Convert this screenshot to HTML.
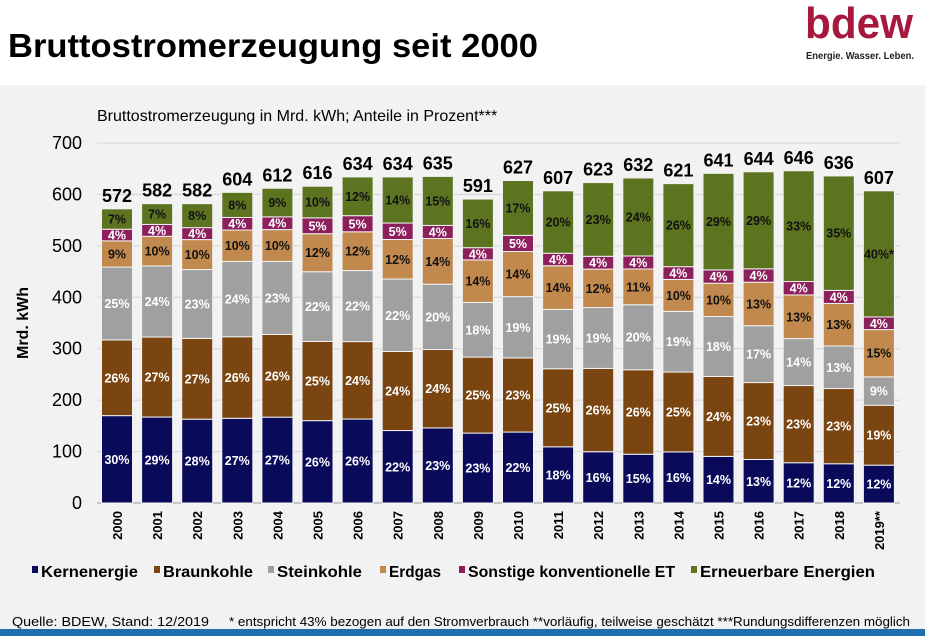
<!DOCTYPE html>
<html><head><meta charset="utf-8">
<style>
body{margin:0;width:925px;height:636px;overflow:hidden;background:#fff;font-family:"Liberation Sans",Arial,sans-serif;}
#bg{position:absolute;left:0;top:85px;width:925px;height:545px;background:#f2f2f2;}
#bar{position:absolute;left:0;top:629px;width:925px;height:7px;background:#1f6fb0;}
svg{position:absolute;left:0;top:0;}
</style></head><body>
<div id="bg"></div>
<div id="bar"></div>
<svg id="c" width="925" height="636">
<text x="8" y="57" font-size="33" font-weight="bold" fill="#000" textLength="530" lengthAdjust="spacingAndGlyphs">Bruttostromerzeugung seit 2000</text>
<text x="805" y="38" font-size="44" fill="#a6193c" font-weight="bold" textLength="108" lengthAdjust="spacingAndGlyphs">bdew</text>
<text x="806" y="59" font-size="10" font-weight="bold" fill="#222" textLength="108" lengthAdjust="spacingAndGlyphs">Energie. Wasser. Leben.</text>
<text x="97" y="121" font-size="16" fill="#000">Bruttostromerzeugung in Mrd. kWh; Anteile in Prozent***</text>
<text transform="translate(28,323) rotate(-90)" text-anchor="middle" font-size="16" font-weight="bold">Mrd. kWh</text>
<text x="12" y="626" font-size="12.5" textLength="197" lengthAdjust="spacingAndGlyphs">Quelle: BDEW, Stand: 12/2019</text>
<text x="229" y="626" font-size="12.5" textLength="681" lengthAdjust="spacingAndGlyphs">* entspricht 43% bezogen auf den Stromverbrauch **vorläufig, teilweise geschätzt ***Rundungsdifferenzen möglich</text>
<g id="plot"></g>
</svg>
<script>
const years=["2000","2001","2002","2003","2004","2005","2006","2007","2008","2009","2010","2011","2012","2013","2014","2015","2016","2017","2018","2019**"];
const totals=[572,582,582,604,612,616,634,634,635,591,627,607,623,632,621,641,644,646,636,607];
const kern=[30,29,28,27,27,26,26,22,23,23,22,18,16,15,16,14,13,12,12,12];
const braun=[26,27,27,26,26,25,24,24,24,25,23,25,26,26,25,24,23,23,23,19];
const stein=[25,24,23,24,23,22,22,22,20,18,19,19,19,20,19,18,17,14,13,9];
const erdgas=[9,10,10,10,10,12,12,12,14,14,14,14,12,11,10,10,13,13,13,15];
const sonst=[4,4,4,4,4,5,5,5,4,4,5,4,4,4,4,4,4,4,4,4];
const ee=[7,7,8,8,9,10,12,14,15,16,17,20,23,24,26,29,29,33,35,40];
const eeLabels=["7%","7%","8%","8%","9%","10%","12%","14%","15%","16%","17%","20%","23%","24%","26%","29%","29%","33%","35%","40%*"];
const yTicks=[0,100,200,300,400,500,600,700];
const seriesNames=["Kernenergie","Braunkohle","Steinkohle","Erdgas","Sonstige konventionelle ET","Erneuerbare Energien"];
const series=[kern,braun,stein,erdgas,sonst,ee];
const colors=["#0a0a5a","#7b4512","#a0a0a0","#c2894e","#8c1f5c","#5c7320"];
const txtCol=["#fff","#fff","#fff","#111","#fff","#111"];
const slugs=["kernenergie","braunkohle","steinkohle","erdgas","sonstige","erneuerbare"];
const NS="http://www.w3.org/2000/svg";
const g=document.getElementById('plot');
const y=v=>503-v*(360/700);
const xc=i=>117+i*40.1;
const bw=31;
function el(t,a,p){const e=document.createElementNS(NS,t);for(const k in a)e.setAttribute(k,a[k]);(p||g).appendChild(e);return e;}
yTicks.forEach(t=>{
  const l=el('line',{x1:97,x2:900,y1:y(t),y2:y(t),stroke:t===0?'#999':'#d4d4d4','stroke-width':1});
  
  
  const tx=el('text',{x:82,y:y(t)+6,'text-anchor':'end','font-size':18});
  tx.textContent=t;
  
  
});
years.forEach((yr,i)=>{
  const sum=series.reduce((s,a)=>s+a[i],0);
  let acc=0;
  series.forEach((a,k)=>{
    const v=a[i]/sum*totals[i];
    const y0=y(acc),y1=y(acc+v);
    const r=el('rect',{x:xc(i)-bw/2,y:y1,width:bw,height:y0-y1,fill:colors[k],stroke:'#f2f2f2','stroke-width':1});
    
    
    const t=el('text',{x:xc(i),y:(y0+y1)/2+4.5,'text-anchor':'middle','font-size':12.5,'font-weight':'bold',fill:txtCol[k]});
    t.textContent=k===5?eeLabels[i]:a[i]+'%';
    
    
    acc+=v;
  });
  const tt=el('text',{x:xc(i),y:y(totals[i])-7,'text-anchor':'middle','font-size':18,'font-weight':'bold'});
  tt.textContent=totals[i];
  
  
  const yl=el('text',{transform:`translate(${xc(i)+5},511) rotate(-90)`,'text-anchor':'end','font-size':13,'font-weight':'bold'});
  yl.textContent=yr;
  
  
});
const lx=[32,154,268,380,459,691];
const lw=[97,90,85,52,207,175];
seriesNames.forEach((n,k)=>{
  const r=el('rect',{x:lx[k],y:566,width:6,height:7,fill:colors[k]});
  
  
  const t=el('text',{x:lx[k]+9,y:577,'font-size':16,'font-weight':'bold',textLength:lw[k],lengthAdjust:'spacingAndGlyphs'});
  t.textContent=n;
  
  
});
</script>
</body></html>
